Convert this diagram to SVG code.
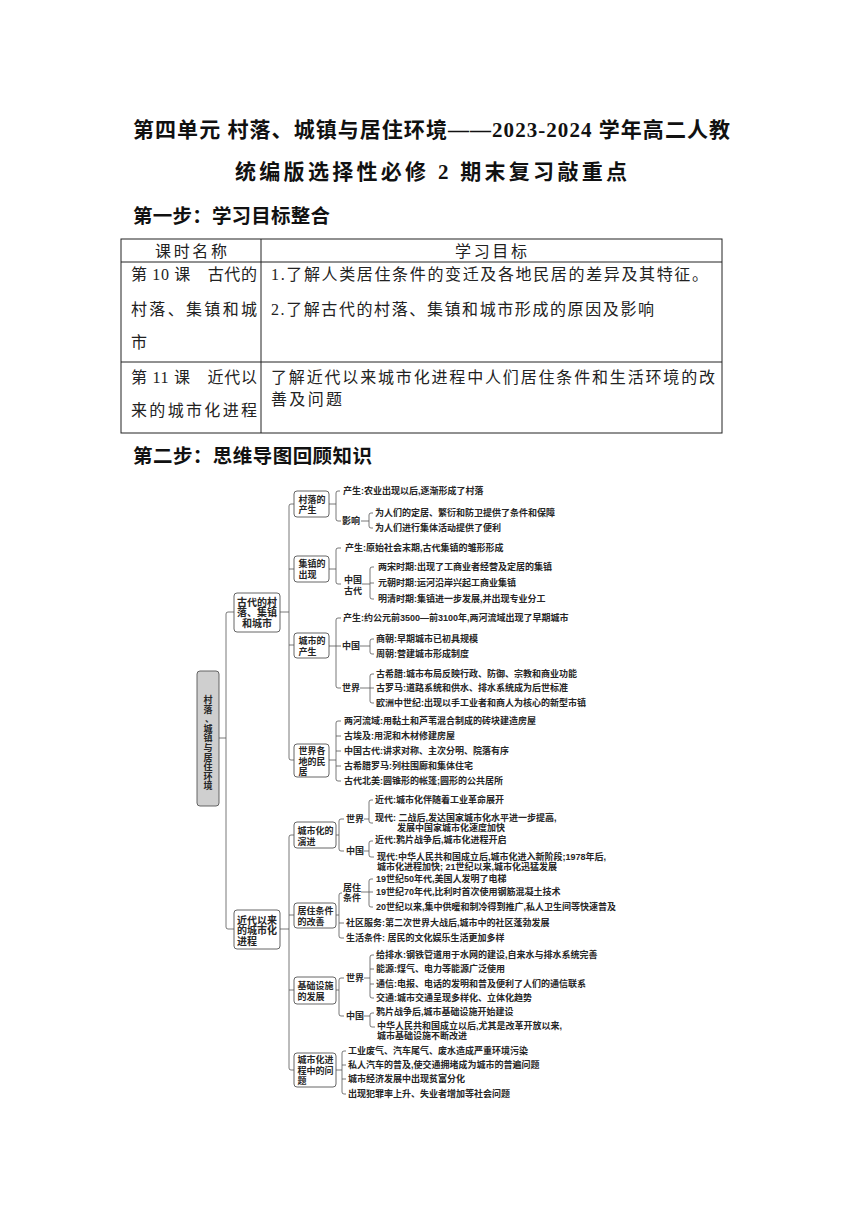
<svg xmlns="http://www.w3.org/2000/svg" width="860" height="1216" viewBox="0 0 860 1216">
<style>
.bg{fill:#fff}
.h{font-family:"Liberation Serif","Noto Sans CJK SC",serif;font-weight:700;fill:#111;dominant-baseline:central}
.tb{font-family:"Liberation Serif","Noto Sans CJK SC",serif;font-size:16px;fill:#222;dominant-baseline:central}
.grid{fill:none;stroke:#222;stroke-width:1}
.t{font-family:"Liberation Sans","Noto Sans CJK SC",sans-serif;font-weight:700;font-size:9px;fill:#262626;dominant-baseline:central}
.n1{font-size:10px}
.ln{fill:none;stroke:#555;stroke-width:0.8}
.box{fill:#fff;stroke:#555;stroke-width:0.9}
.root{fill:#cfcfcf;stroke:#555;stroke-width:0.9}
.mid{text-anchor:middle}
</style>
<rect class="bg" x="0" y="0" width="860" height="1216"/>

<g id="title">
<text class="h" x="133" y="130" font-size="21" textLength="597">第四单元 村落、城镇与居住环境——2023-2024 学年高二人教</text>
<text class="h" x="235" y="172" font-size="21" textLength="392">统编版选择性必修 2 期末复习敲重点</text>
<text class="h" x="133" y="216" font-size="19.5" textLength="197">第一步：学习目标整合</text>
<text class="h" x="133" y="456" font-size="19.5" textLength="239">第二步：思维导图回顾知识</text>
</g>

<g id="table">
<rect class="grid" x="121" y="239" width="601" height="194"/>
<line class="grid" x1="121" y1="262" x2="722" y2="262"/>
<line class="grid" x1="121" y1="362" x2="722" y2="362"/>
<line class="grid" x1="261" y1="239" x2="261" y2="433"/>
<text class="tb mid" x="191" y="251" textLength="72">课时名称</text>
<text class="tb mid" x="491" y="251" textLength="72">学习目标</text>
<text class="tb" x="131" y="274" textLength="126">第 10 课　古代的</text>
<text class="tb" x="131" y="309" textLength="126">村落、集镇和城</text>
<text class="tb" x="131" y="342">市</text>
<text class="tb" x="271" y="274" textLength="437">1.了解人类居住条件的变迁及各地民居的差异及其特征。</text>
<text class="tb" x="271" y="309" textLength="383">2.了解古代的村落、集镇和城市形成的原因及影响</text>
<text class="tb" x="131" y="377" textLength="126">第 11 课　近代以</text>
<text class="tb" x="131" y="410" textLength="126">来的城市化进程</text>
<text class="tb" x="271" y="377" textLength="444">了解近代以来城市化进程中人们居住条件和生活环境的改</text>
<text class="tb" x="271" y="399" textLength="71">善及问题</text>
</g>

<g id="connectors">
<path class="ln" d="M219,738 H226"/>
<path class="ln" d="M234,612 H228 Q226,612 226,614 V927 Q226,929 228,929 H234"/>
<path class="ln" d="M280,612 H289"/>
<path class="ln" d="M294,504 H291 Q289,504 289,506 V758 Q289,760 291,760 H294 M289,569 H294 M289,645 H294"/>
<path class="ln" d="M280,929 H289"/>
<path class="ln" d="M294,835 H291 Q289,835 289,837 V1068 Q289,1070 291,1070 H294 M289,915 H294 M289,990 H294"/>
<path class="ln" d="M329,504 H336 M340,491 H338 Q336,491 336,493 V519 Q336,521 338,521 H341"/>
<path class="ln" d="M361,521 H369 M373,513 H371 Q369,513 369,515 V526 Q369,528 371,528 H373"/>
<path class="ln" d="M329,569 H336 M341,548 H338 Q336,548 336,550 V582 Q336,584 338,584 H341"/>
<path class="ln" d="M362,584 H370 M374,567 H372 Q370,567 370,569 V597 Q370,599 372,599 H374 M370,583 H374"/>
<path class="ln" d="M329,646 H341 M341,618 H338 Q336,618 336,620 V686 Q336,688 338,688 H341"/>
<path class="ln" d="M360,646 H370 M374,639 H372 Q370,639 370,641 V652 Q370,654 372,654 H374"/>
<path class="ln" d="M360,688 H370 M374,674 H372 Q370,674 370,676 V701 Q370,703 372,703 H374 M370,688 H374"/>
<path class="ln" d="M329,760 H336 M341,721 H338 Q336,721 336,723 V779 Q336,781 338,781 H341 M336,736 H341 M336,751 H341 M336,766 H341"/>
<path class="ln" d="M336,835 H339 M344,819 H341 Q339,819 339,821 V849 Q339,851 341,851 H344"/>
<path class="ln" d="M364,819 H369 M373,800 H371 Q369,800 369,802 V821 Q369,823 371,823 H373"/>
<path class="ln" d="M364,851 H369 M373,841 H371 Q369,841 369,843 V855 Q369,857 371,857 H374"/>
<path class="ln" d="M336,915 H339 M342,893 H341 Q339,893 339,895 V936 Q339,938 341,938 H344 M339,923 H344"/>
<path class="ln" d="M361,892 H369 M373,879 H371 Q369,879 369,881 V905 Q369,907 371,907 H373 M369,892 H373"/>
<path class="ln" d="M336,990 H339 M344,978 H341 Q339,978 339,980 V1014 Q339,1016 341,1016 H344"/>
<path class="ln" d="M364,978 H370 M374,955 H372 Q370,955 370,957 V996 Q370,998 372,998 H374 M370,969 H374 M370,984 H374"/>
<path class="ln" d="M364,1016 H370 M374,1013 H372 Q370,1013 370,1015 V1025 Q370,1027 372,1027 H375"/>
<path class="ln" d="M336,1070 H342 M346,1051 H344 Q342,1051 342,1053 V1092 Q342,1094 344,1094 H346 M342,1065 H346 M342,1079 H346"/>
</g>

<g id="root">
<rect class="root" x="197" y="671" width="22" height="135" rx="3"/>
<text class="t mid"><tspan x="208" y="700">村</tspan><tspan x="208" y="709.6">落</tspan><tspan x="209.5" y="719.2">、</tspan><tspan x="208" y="728.8">城</tspan><tspan x="208" y="738.4">镇</tspan><tspan x="208" y="748">与</tspan><tspan x="208" y="757.6">居</tspan><tspan x="208" y="767.2">住</tspan><tspan x="208" y="776.8">环</tspan><tspan x="208" y="786.4">境</tspan></text>
</g>

<g id="n-gudai">
<rect class="box" x="234" y="593" width="46" height="39" rx="3"/>
<text class="t n1 mid" x="257" y="602">古代的村</text>
<text class="t n1 mid" x="257" y="612.5">落、集镇</text>
<text class="t n1 mid" x="257" y="623">和城市</text>
</g>
<g id="n-jindai">
<rect class="box" x="234" y="910" width="46" height="39" rx="3"/>
<text class="t n1" x="237" y="920">近代以来</text>
<text class="t n1" x="237" y="930.5">的城市化</text>
<text class="t n1" x="237" y="941">进程</text>
</g>

<g id="n-cunluo">
<rect class="box" x="294" y="491" width="35" height="26" rx="3"/>
<text class="t" x="298.5" y="499.5">村落的</text>
<text class="t" x="298.5" y="510">产生</text>
<text class="t" x="343" y="491">产生:农业出现以后,逐渐形成了村落</text>
<text class="t" x="342" y="521">影响</text>
<text class="t" x="375" y="513">为人们的定居、繁衍和防卫提供了条件和保障</text>
<text class="t" x="375" y="528">为人们进行集体活动提供了便利</text>
</g>

<g id="n-jizhen">
<rect class="box" x="294" y="556" width="35" height="26" rx="3"/>
<text class="t" x="298.5" y="564">集镇的</text>
<text class="t" x="298.5" y="575">出现</text>
<text class="t" x="345" y="548">产生:原始社会末期,古代集镇的雏形形成</text>
<text class="t" x="344" y="580">中国</text>
<text class="t" x="344" y="590.5">古代</text>
<text class="t" x="378" y="567">两宋时期:出现了工商业者经营及定居的集镇</text>
<text class="t" x="378" y="583">元朝时期:运河沿岸兴起工商业集镇</text>
<text class="t" x="378" y="599">明清时期:集镇进一步发展,并出现专业分工</text>
</g>

<g id="n-chengshi">
<rect class="box" x="294" y="633" width="35" height="25" rx="3"/>
<text class="t" x="298.5" y="641">城市的</text>
<text class="t" x="298.5" y="651.5">产生</text>
<text class="t" x="343" y="618">产生:约公元前3500—前3100年,两河流域出现了早期城市</text>
<text class="t" x="342" y="646">中国</text>
<text class="t" x="376" y="639">商朝:早期城市已初具规模</text>
<text class="t" x="376" y="654">周朝:营建城市形成制度</text>
<text class="t" x="342" y="688">世界</text>
<text class="t" x="376" y="674">古希腊:城市布局反映行政、防御、宗教和商业功能</text>
<text class="t" x="376" y="688">古罗马:道路系统和供水、排水系统成为后世标准</text>
<text class="t" x="376" y="703">欧洲中世纪:出现以手工业者和商人为核心的新型市镇</text>
</g>

<g id="n-minju">
<rect class="box" x="294" y="744" width="35" height="33" rx="3"/>
<text class="t" x="298.5" y="751">世界各</text>
<text class="t" x="298.5" y="761.5">地的民</text>
<text class="t" x="298.5" y="772">居</text>
<text class="t" x="344" y="721">两河流域:用黏土和芦苇混合制成的砖块建造房屋</text>
<text class="t" x="344" y="736">古埃及:用泥和木材修建房屋</text>
<text class="t" x="344" y="751">中国古代:讲求对称、主次分明、院落有序</text>
<text class="t" x="344" y="766">古希腊罗马:列柱围廊和集体住宅</text>
<text class="t" x="344" y="781">古代北美:圆锥形的帐篷;圆形的公共居所</text>
</g>

<g id="n-yanjin">
<rect class="box" x="294" y="822" width="42" height="26" rx="3"/>
<text class="t" x="297.5" y="830.5">城市化的</text>
<text class="t" x="297.5" y="841.5">演进</text>
<text class="t" x="346" y="819">世界</text>
<text class="t" x="375" y="800">近代:城市化伴随着工业革命展开</text>
<text class="t" x="375" y="818">现代: 二战后,发达国家城市化水平进一步提高,</text>
<text class="t" x="397" y="828">发展中国家城市化速度加快</text>
<text class="t" x="346" y="851">中国</text>
<text class="t" x="375" y="840">近代:鸦片战争后,城市化进程开启</text>
<text class="t" x="377" y="857">现代:中华人民共和国成立后,城市化进入新阶段;1978年后,</text>
<text class="t" x="377" y="866.5">城市化进程加快; 21世纪以来,城市化迅猛发展</text>
</g>

<g id="n-juzhu">
<rect class="box" x="294" y="903" width="42" height="25" rx="3"/>
<text class="t" x="297.5" y="911">居住条件</text>
<text class="t" x="297.5" y="921.5">的改善</text>
<text class="t" x="343" y="888">居住</text>
<text class="t" x="343" y="898">条件</text>
<text class="t" x="376" y="879">19世纪50年代,美国人发明了电梯</text>
<text class="t" x="376" y="892">19世纪70年代,比利时首次使用钢筋混凝土技术</text>
<text class="t" x="376" y="907">20世纪以来,集中供暖和制冷得到推广,私人卫生间等快速普及</text>
<text class="t" x="346" y="923">社区服务:第二次世界大战后,城市中的社区蓬勃发展</text>
<text class="t" x="346" y="938">生活条件: 居民的文化娱乐生活更加多样</text>
</g>

<g id="n-sheshi">
<rect class="box" x="294" y="977" width="42" height="27" rx="3"/>
<text class="t" x="297.5" y="986">基础设施</text>
<text class="t" x="297.5" y="996.5">的发展</text>
<text class="t" x="346" y="978">世界</text>
<text class="t" x="376" y="955">给排水:钢铁管道用于水网的建设,自来水与排水系统完善</text>
<text class="t" x="376" y="969">能源:煤气、电力等能源广泛使用</text>
<text class="t" x="376" y="984">通信:电报、电话的发明和普及便利了人们的通信联系</text>
<text class="t" x="376" y="998">交通:城市交通呈现多样化、立体化趋势</text>
<text class="t" x="346" y="1016">中国</text>
<text class="t" x="376" y="1012">鸦片战争后,城市基础设施开始建设</text>
<text class="t" x="377" y="1026">中华人民共和国成立以后,尤其是改革开放以来,</text>
<text class="t" x="377" y="1035.5">城市基础设施不断改进</text>
</g>

<g id="n-wenti">
<rect class="box" x="294" y="1053" width="42" height="34" rx="3"/>
<text class="t" x="297.5" y="1060">城市化进</text>
<text class="t" x="297.5" y="1070.5">程中的问</text>
<text class="t" x="297.5" y="1081">题</text>
<text class="t" x="348" y="1051">工业废气、汽车尾气、废水造成严重环境污染</text>
<text class="t" x="348" y="1065">私人汽车的普及,使交通拥堵成为城市的普遍问题</text>
<text class="t" x="348" y="1079">城市经济发展中出现贫富分化</text>
<text class="t" x="348" y="1094">出现犯罪率上升、失业者增加等社会问题</text>
</g>
</svg>
